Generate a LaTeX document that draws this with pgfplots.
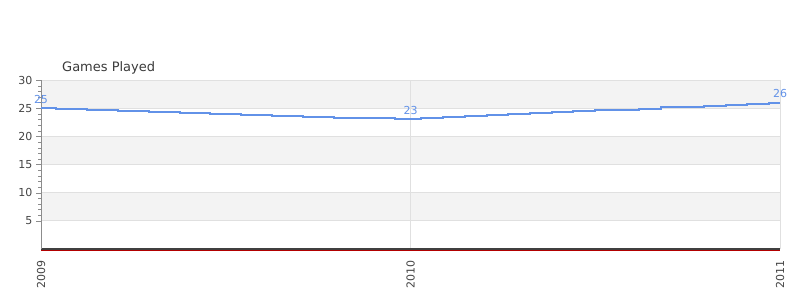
\documentclass[border=0pt]{standalone}
\usepackage{pgfplots}
\pgfplotsset{compat=1.18}
\usepackage{fontspec}
\setmainfont{DejaVu Sans}
\definecolor{lineblue}{RGB}{98,146,232}
\definecolor{band}{RGB}{243,243,243}
\definecolor{gridc}{RGB}{224,224,224}
\definecolor{txt}{RGB}{68,68,68}
\begin{document}
\begin{tikzpicture}
\node[anchor=base west, text=txt!85!black, inner sep=0pt, font=\fontsize{13}{15}\selectfont] at (62pt,228pt) {Games Played};
\begin{axis}[
  at={(41pt,51pt)}, anchor=south west,
  scale only axis, width=739pt, height=169pt,
  set layers,
  xmin=0, xmax=24, ymin=0, ymax=30,
  axis lines*=left,
  x axis line style={draw=black!75, line width=1.2pt},
  y axis line style={draw=black!45},
  xtick={0,12,24}, xticklabels={2009,2010,2011},
  ytick={5,10,15,20,25,30},
  minor y tick num=4,
  tick align=outside,
  x tick style={draw=none},
  y tick style={draw=black!45},
  major tick length=5pt, minor tick length=3pt,
  xmajorgrids, ymajorgrids,
  grid style={draw=gridc, line width=0.8pt},
  tick label style={font=\fontsize{11}{13}\selectfont, text=txt},
  xticklabel style={yshift=-3pt, rotate=90, anchor=east},
  /pgf/number format/assume math mode=true,
  clip=false,
]
\addplot[on layer=axis background, fill=band, draw=none] coordinates {(0,25) (24,25) (24,30) (0,30)};
\addplot[on layer=axis background, fill=band, draw=none] coordinates {(0,15) (24,15) (24,20) (0,20)};
\addplot[on layer=axis background, fill=band, draw=none] coordinates {(0,5) (24,5) (24,10) (0,10)};
\addplot[red!70!black, line width=0.45pt] coordinates {(0,-0.2) (24,-0.2)};
\addplot[lineblue, line width=2pt, const plot] coordinates {
(0,25) (0.5,24.83) (1.5,24.67) (2.5,24.5) (3.5,24.33) (4.5,24.17) (5.5,24) (6.5,23.83) (7.5,23.67) (8.5,23.5) (9.5,23.33) (10.5,23.17) (11.5,23)
(12.35,23.18) (13.06,23.35) (13.76,23.53) (14.47,23.71) (15.18,23.88) (15.88,24.06) (16.59,24.24) (17.29,24.41) (18,24.59) (18.71,24.76) (19.41,24.94) (20.12,25.12) (20.82,25.29) (21.53,25.47) (22.24,25.65) (22.94,25.82) (23.65,26) (24,26)
};
\addplot[draw=none, mark=none, nodes near coords, point meta=explicit symbolic,
  every node near coord/.style={anchor=center, yshift=9pt, text=lineblue, font=\fontsize{11}{13}\selectfont}]
  coordinates {(0,25) [25] (12,23) [23] (24,26) [26]};
\end{axis}
\path (0pt,0pt) rectangle (800pt,300pt);
\end{tikzpicture}
\end{document}
